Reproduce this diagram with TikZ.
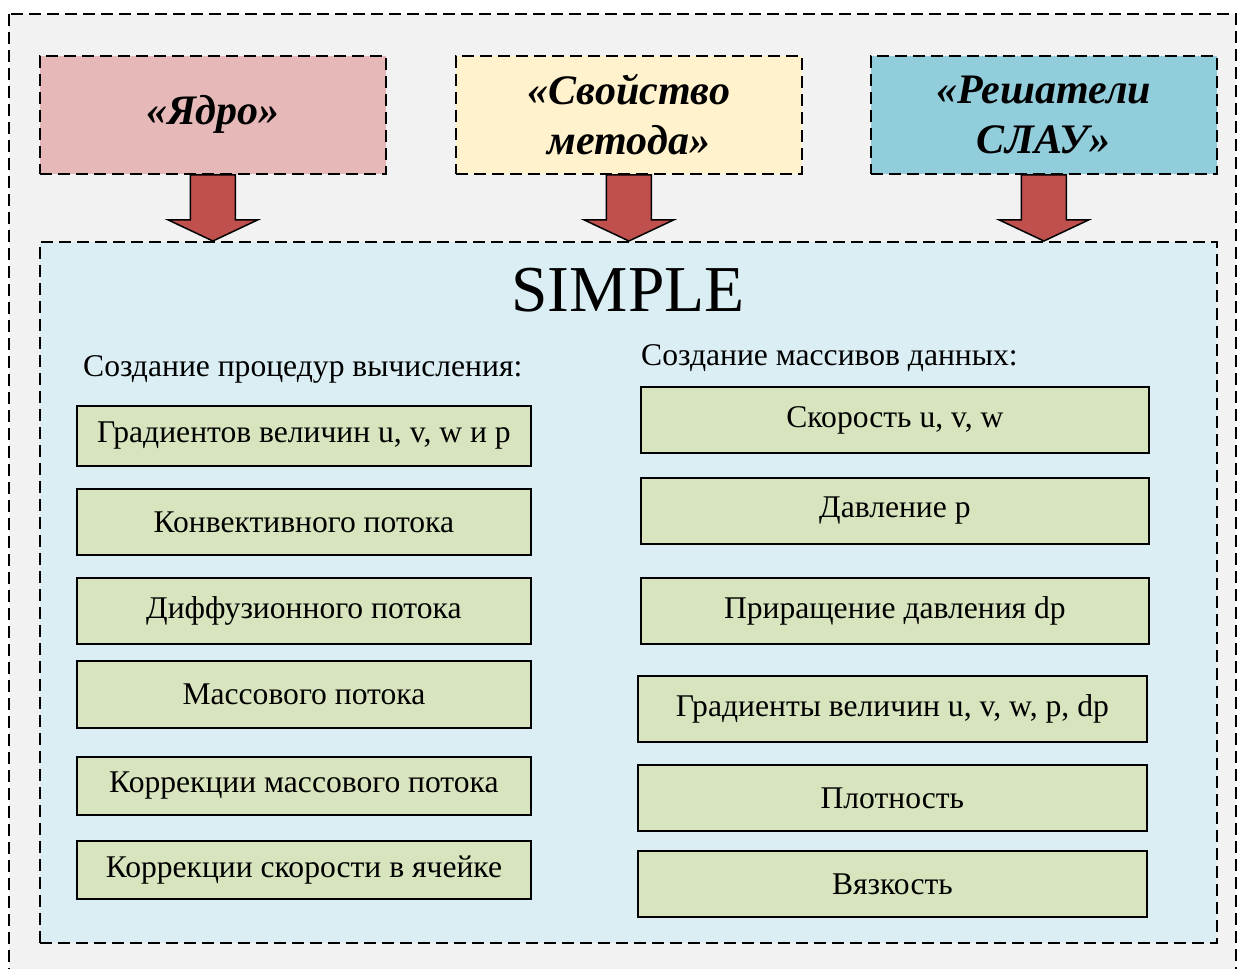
\documentclass[tikz,border=0pt]{standalone}
\usepackage{fontspec}
\setmainfont{Liberation Serif}
\usetikzlibrary{calc}
\definecolor{outerbg}{HTML}{F2F2F2}
\definecolor{kerncol}{HTML}{E6B8B7}
\definecolor{propcol}{HTML}{FFF2CC}
\definecolor{solvcol}{HTML}{92CDDC}
\definecolor{simplebg}{HTML}{DAEEF3}
\definecolor{itemcol}{HTML}{D7E4BD}
\definecolor{arrowcol}{HTML}{C0504D}
\tikzset{
  dashbox/.style={draw=black, line width=1.8pt, dash pattern=on 12pt off 6pt},
  topbox/.style={dashbox, minimum width=346pt, minimum height=118pt, anchor=north west, inner sep=0pt, align=center,
     font=\fontsize{42}{50}\selectfont\bfseries\itshape},
  itembox/.style={draw=black, line width=1.8pt, fill=itemcol, anchor=north west, inner sep=0pt,
     font=\fontsize{31.6}{36}\selectfont},
  headtext/.style={anchor=west, inner sep=0pt, font=\fontsize{31.6}{36}\selectfont},
  bigarrow/.style={draw=black, line width=1.5pt, fill=arrowcol, line join=miter}
}
\begin{document}
\begin{tikzpicture}[x=1pt,y=-1pt]
\useasboundingbox (0,0) rectangle (1238,968);
\clip (0,0) rectangle (1238,968);
\fill[white] (0,0) rectangle (1238,968);
% outer frame
\draw[dashbox, fill=outerbg] (9,14) rectangle (1236,990);
% top boxes
\node[topbox, fill=kerncol] (kern) at (39,55) {«Ядро»};
\node[topbox, fill=propcol] (prop) at (455,55) {«Свойство\\метода»};
\node[topbox, fill=solvcol] (solv) at (870,55) {«Решатели\\СЛАУ»};
% container
\node[dashbox, fill=simplebg, anchor=north west, minimum width=1177pt, minimum height=701pt, inner sep=0pt] (simple) at (39,241) {};
\node[inner sep=0pt, font=\fontsize{65.5}{70}\selectfont] (title) at (628,290) {SIMPLE};
% arrows
\foreach \n in {kern,prop,solv}{
  \draw[bigarrow] ($(\n.south)+(-22.5,0)$) -- ($(\n.south)+(22.5,0)$) -- ($(\n.south)+(22.5,45)$)
     -- ($(\n.south)+(45,45)$) -- (\n.south |- simple.north) -- ($(\n.south)+(-45,45)$)
     -- ($(\n.south)+(-22.5,45)$) -- cycle;
}
% headings
\node[headtext] (lhead) at (83,369) {Создание процедур вычисления:};
\node[headtext] (rhead) at (641,358) {Создание массивов данных:};
% left items
\node[itembox, minimum width=454pt, minimum height=60pt] (l1) at (76,405) {Градиентов величин u, v, w и p};
\node[itembox, minimum width=454pt, minimum height=66pt] (l2) at (76,488) {Конвективного потока};
\node[itembox, minimum width=454pt, minimum height=66pt] (l3) at (76,577) {Диффузионного потока};
\node[itembox, minimum width=454pt, minimum height=67pt] (l4) at (76,660) {Массового потока};
\node[itembox, minimum width=454pt, minimum height=58pt] (l5) at (76,756) {Коррекции массового потока};
\node[itembox, minimum width=454pt, minimum height=58pt] (l6) at (76,840) {Коррекции скорости в ячейке};
% right items
\node[itembox, minimum width=508pt, minimum height=66pt] (r1) at (640,386) {Скорость u, v, w};
\node[itembox, minimum width=508pt, minimum height=66pt] (r2) at (640,477) {Давление p};
\node[itembox, minimum width=508pt, minimum height=66pt] (r3) at (640,577) {Приращение давления dp};
\node[itembox, minimum width=509pt, minimum height=66pt] (r4) at (637,675) {Градиенты величин u, v, w, p, dp};
\node[itembox, minimum width=509pt, minimum height=66pt] (r5) at (637,764) {Плотность};
\node[itembox, minimum width=509pt, minimum height=66pt] (r6) at (637,850) {Вязкость};
\end{tikzpicture}
\end{document}
